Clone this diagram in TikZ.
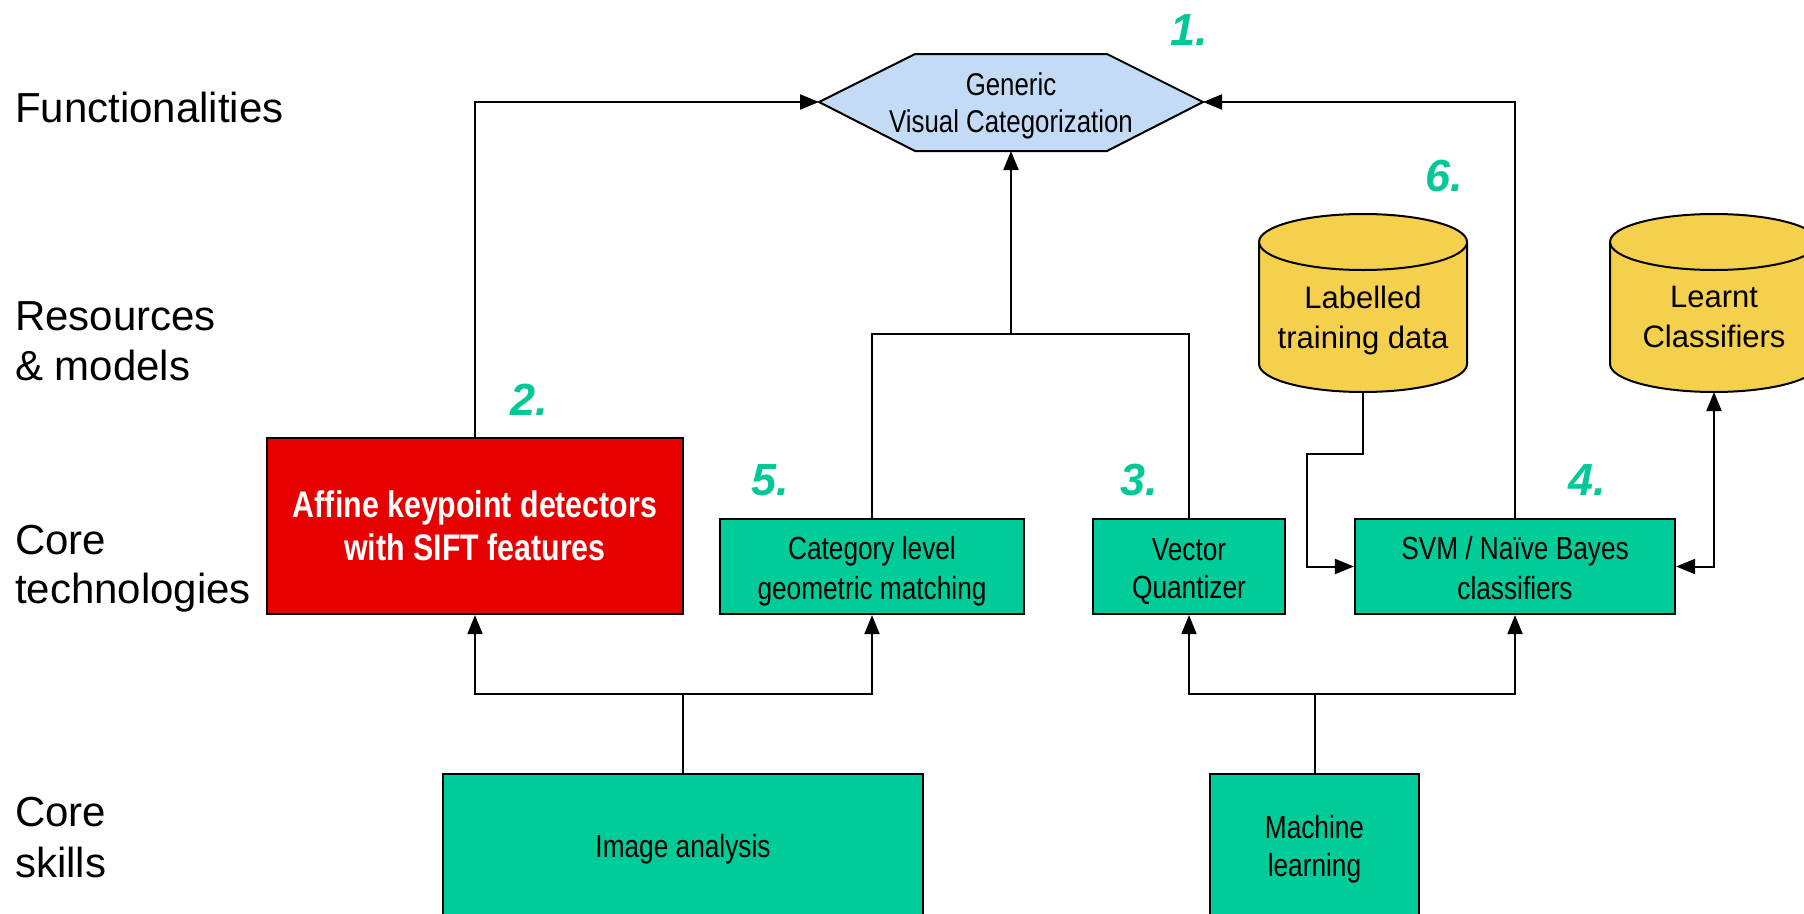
\documentclass[tikz,border=0pt]{standalone}
\usepackage{fontspec}
\setmainfont{Liberation Sans}
\newfontfamily\narrowfont[FakeStretch=0.82]{Liberation Sans}
\usetikzlibrary{arrows.meta,calc}
\definecolor{boxgreen}{HTML}{00CC99}
\definecolor{numgreen}{HTML}{00C896}
\definecolor{boxred}{HTML}{E60000}
\definecolor{hexblue}{HTML}{C4DBF5}
\definecolor{cylyellow}{HTML}{F4D04C}
\newcommand{\bstrut}{\rule[-6pt]{0pt}{38pt}}
\begin{document}
\begin{tikzpicture}[x=1pt,y=-1pt,
  conn/.style={draw=black, line width=2pt},
  arr/.style={conn, -{Triangle[length=19pt,width=15pt]}},
  arrboth/.style={conn, {Triangle[length=19pt,width=15pt]}-{Triangle[length=19pt,width=15pt]}},
  box/.style={draw=black, line width=2.2pt, inner sep=0pt, align=center},
  gbox/.style={box, fill=boxgreen, font=\narrowfont\fontsize{32}{38}\selectfont},
  rbox/.style={box, fill=boxred, text=white, font=\narrowfont\bfseries\fontsize{37}{43}\selectfont},
  lbl/.style={anchor=base west, inner sep=0pt, font=\fontsize{42}{50}\selectfont},
  num/.style={anchor=base west, inner sep=0pt, text=numgreen, font=\bfseries\itshape\fontsize{45}{50}\selectfont},
  cyl/.style={draw=black, line width=2pt, fill=cylyellow},
  cyltext/.style={align=center, inner sep=0pt, font=\fontsize{31}{40}\selectfont},
  hexstyle/.style={draw=black, line width=2pt, fill=hexblue}
]
\useasboundingbox (0,0) rectangle (1804,913);
\clip (0,0) rectangle (1804,913);

% row labels
\node[lbl] (fun) at (15,122) {Functionalities};
\node[lbl] (res1) at (15,330) {Resources};
\node[lbl] (res2) at (15,380) {\& models};
\node[lbl] (ct1) at (15,554) {Core};
\node[lbl] (ct2) at (15,603) {technologies};
\node[lbl] (cs1) at (15,826) {Core};
\node[lbl] (cs2) at (15,877) {skills};

% numbers
\node[num] (n1) at (1170,45) {1.};
\node[num] (n2) at (510,415) {2.};
\node[num] (n3) at (1120,495) {3.};
\node[num] (n4) at (1568,495) {4.};
\node[num] (n5) at (751,495) {5.};
\node[num] (n6) at (1425,191) {6.};

% hexagon
\draw[hexstyle] (819,102) -- (915,54) -- (1107,54) -- (1203,102) -- (1107,151) -- (915,151) -- cycle;
\coordinate (hexL) at (819,102);
\coordinate (hexR) at (1203,102);
\coordinate (hexB) at (1011,151);
\node[align=center, inner sep=0pt, font=\narrowfont\fontsize{31.5}{37}\selectfont] (gvc) at (1011,106) {Generic\\Visual Categorization};

% cylinders
\draw[cyl] (1259,242) -- (1259,364) arc[start angle=180, end angle=0, x radius=104, y radius=28] -- (1467,242) arc[start angle=0, end angle=-180, x radius=104, y radius=28] -- cycle;
\draw[line width=2pt] (1259,242) arc[start angle=180, end angle=0, x radius=104, y radius=28];
\node[cyltext] (lab) at (1363,320) {Labelled\\training data};
\coordinate (labB) at (1363,392);

\draw[cyl] (1610,242) -- (1610,364) arc[start angle=180, end angle=0, x radius=104, y radius=28] -- (1818,242) arc[start angle=0, end angle=-180, x radius=104, y radius=28] -- cycle;
\draw[line width=2pt] (1610,242) arc[start angle=180, end angle=0, x radius=104, y radius=28];
\node[cyltext] (lrn) at (1714,317) {Learnt\\Classifiers};
\coordinate (lrnB) at (1714,392);

% boxes
\node[rbox, minimum width=416pt, minimum height=176pt] (afk) at (475,526) {Affine keypoint detectors\\with SIFT features};
\node[gbox, minimum width=304pt, minimum height=95pt] (cat) at (872,566.5) {\bstrut Category level\\\bstrut geometric matching};
\node[gbox, minimum width=192pt, minimum height=95pt] (vq) at (1189,566.5) {\bstrut Vector\\\bstrut Quantizer};
\node[gbox, minimum width=320pt, minimum height=95pt] (svm) at (1515,566.5) {\bstrut SVM / Naïve Bayes\\\bstrut classifiers};
\node[gbox, minimum width=480pt, minimum height=151pt] (img) at (683,849.5) {Image analysis};
\node[gbox, minimum width=209pt, minimum height=151pt] (ml) at (1314.5,849.5) {Machine\\learning};

% connectors
\coordinate (tj) at (1011,334);
\draw[arr] (afk.north) |- (hexL);
\draw[arr] (svm.north) |- (hexR);
\draw[conn] (cat.north) |- (tj);
\draw[conn] (vq.north) |- (tj);
\draw[arr] (tj) -- (hexB);

\coordinate (lbend) at (1307,454);
\draw[arr] (labB) |- (lbend) |- (svm.west);
\draw[arrboth] (svm.east) -| (lrnB);

\coordinate (ij) at (683,694);
\draw[conn] (img.north) -- (ij);
\draw[arr] (ij) -| (afk.south);
\draw[arr] (ij) -| (cat.south);

\coordinate (mj) at (1314.5,694);
\draw[conn] (ml.north) -- (mj);
\draw[arr] (mj) -| (vq.south);
\draw[arr] (mj) -| (svm.south);
\end{tikzpicture}
\end{document}
